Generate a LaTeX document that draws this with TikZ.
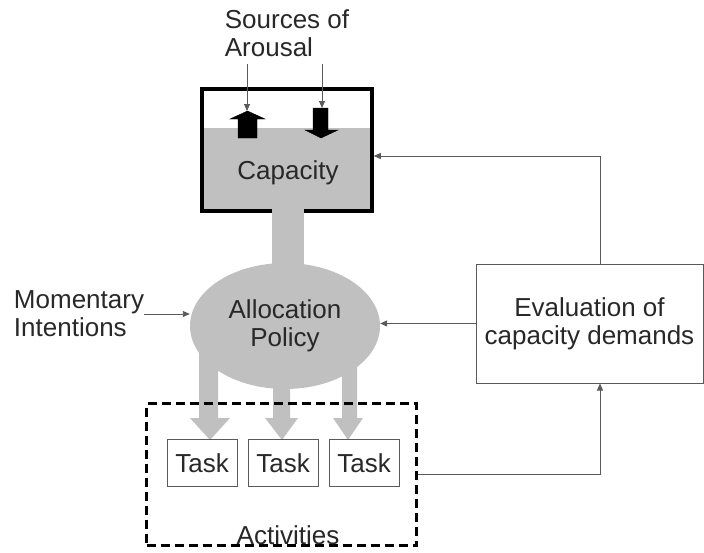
\documentclass[tikz,border=0pt]{standalone}
\usepackage{fontspec}
\setmainfont{Liberation Sans}
\usepackage{tikz}
\usetikzlibrary{shapes.geometric, arrows.meta, positioning, calc}
\definecolor{mygray}{RGB}{192,192,192}
\definecolor{mytext}{RGB}{40,40,40}
\definecolor{myline}{RGB}{90,90,90}
\tikzset{
  capbox/.style={rectangle, draw=black, line width=3.5pt,
    minimum width=170pt, minimum height=122pt, inner sep=0pt},
  evalbox/.style={rectangle, draw=myline, fill=white, line width=1pt,
    minimum width=227pt, minimum height=119pt, align=center, inner sep=0pt},
  taskbox/.style={rectangle, draw=myline, fill=white, line width=1pt,
    minimum width=70pt, minimum height=47pt, inner sep=0pt},
  actbox/.style={rectangle, draw=black, line width=3.5pt,
    dash pattern=on 9pt off 5pt, minimum width=270pt, minimum height=142pt},
  allocnode/.style={ellipse, fill=mygray, minimum width=190pt,
    minimum height=126pt, align=center, inner sep=0pt},
  txt/.style={align=left, inner sep=0pt},
  arrow/.style={-{Triangle[length=7pt,width=6pt]}, line width=0.9pt, color=myline},
  blockarrow/.style={fill=black},
  grayarrow/.style={fill=mygray}
}

\begin{document}
\begin{tikzpicture}[x=1pt, y=-1pt, every node/.style={font=\fontsize{26}{28}\selectfont, text=mytext}]
  \useasboundingbox (0,0) rectangle (704,552);

  % Capacity tank
  \fill[mygray] (202,128) rectangle (372,211);
  \node[capbox] (cap) at (287,150) {};
  \node (captxt) at (288,173) {Capacity};

  % Sources of arousal
  \node[txt] (src) at (287,33) {Sources of\\Arousal};
  \coordinate (upin) at (247,64);
  \coordinate (dnin) at (322,64);
  \draw[blockarrow] (238,138) -- (238,119) -- (230,119) -- (247.5,111) -- (265,119) -- (257,119) -- (257,138) -- cycle;
  \draw[blockarrow] (313,108) -- (328,108) -- (328,130) -- (338,130) -- (321,138) -- (305,130) -- (313,130) -- cycle;
  \draw[arrow] (upin) -- (247,111);
  \draw[arrow] (dnin) -- (322,108);

  % Stem and allocation arrows
  \fill[mygray] (272,205) rectangle (304,280);
  \fill[grayarrow] (199,340) -- (218,340) -- (218,418) -- (230,418) -- (210,440) -- (190,418) -- (199,418) -- cycle;
  \fill[grayarrow] (273,370) -- (290,370) -- (290,418) -- (298,418) -- (282,440) -- (265,418) -- (273,418) -- cycle;
  \fill[grayarrow] (342,340) -- (357,340) -- (357,418) -- (363,418) -- (348,440) -- (333,418) -- (342,418) -- cycle;

  % Allocation policy
  \node[allocnode] (alloc) at (285,326) {Allocation\\Policy};

  % Momentary intentions
  \node[txt] (mom) at (79,314) {Momentary\\Intentions};
  \draw[arrow] (mom.east) -- (mom.east -| alloc.west);

  % Activities
  \node[actbox] (acts) at (281.5,474.5) {};
  \node (actstxt) at (288,535) {Activities};
  \node[taskbox] (t1) at (202,463) {Task};
  \node[taskbox, right=10pt of t1] (t2) {Task};
  \node[taskbox, right=10pt of t2] (t3) {Task};

  % Evaluation of capacity demands
  \node[evalbox] (eval) at (589.5,323.5) {Evaluation of\\capacity demands};
  \draw[arrow] ([xshift=10.5pt]eval.north) |- ([yshift=-6pt]cap.east);
  \draw[arrow] (eval.west) -- (eval.west -| alloc.east);
  \draw[arrow] (acts.east) -| ([xshift=10.5pt]eval.south);
\end{tikzpicture}
\end{document}
